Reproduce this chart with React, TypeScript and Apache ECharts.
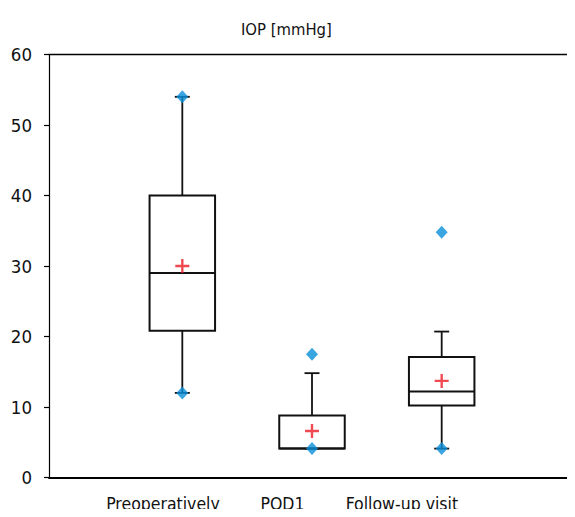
import React, { useEffect, useRef } from "react";
import * as echarts from "echarts";

const categories = ["Preoperatively", "POD1", "Follow-up visit"];
const positions = [1, 2, 3];
const whiskerLow = [12, 4.1, 4.1];
const q1 = [20.8, 4.1, 10.2];
const median = [29, 4.1, 12.2];
const q3 = [40, 8.8, 17.1];
const whiskerHigh = [54, 14.8, 20.7];
const means = [30, 6.6, 13.7];
const minPoints = [12, 4.1, 4.1];
const maxPoints = [54, 17.5, 34.8];
const yTicks = [0, 10, 20, 30, 40, 50, 60];

const FONT = "'Liberation Sans Narrow', 'DejaVu Sans Condensed', 'Noto Sans', sans-serif";
const LABEL_SHIFT = -0.149;
const LABEL_STEP = -0.079;

export default function App() {
  const ref = useRef<HTMLDivElement>(null);
  useEffect(() => {
    const chart = echarts.init(ref.current!, null, { renderer: "svg" });
    const boxData = positions.map((p, i) => [p, whiskerLow[i], q1[i], median[i], q3[i], whiskerHigh[i]]);
    const diamonds: number[][] = [];
    positions.forEach((p, i) => {
      diamonds.push([p, maxPoints[i]]);
      diamonds.push([p, minPoints[i]]);
    });
    const meanData = positions.map((p, i) => [p, means[i]]);
    const labelValues = positions.map((p, i) => p + LABEL_SHIFT + i * LABEL_STEP);
    const labelFor = (v: number) => {
      let best = 0;
      labelValues.forEach((lv, i) => {
        if (Math.abs(lv - v) < Math.abs(labelValues[best] - v)) best = i;
      });
      return categories[best];
    };
    chart.setOption({
      animation: false,
      title: {
        text: "IOP [mmHg]",
        left: 236,
        top: 16,
        textStyle: { fontFamily: FONT, fontSize: 16.5, fontWeight: "normal", color: "#111" },
      },
      grid: { left: 49, right: 0, top: 54.5, bottom: 39.5, containLabel: false, outerBoundsMode: "none" },
      xAxis: [
        {
          type: "value",
          position: "bottom",
          min: -0.028,
          max: 4.028,
          axisLine: { show: true, onZero: false, lineStyle: { color: "#000", width: 2 } },
          axisTick: { show: false },
          axisLabel: {
            show: true,
            customValues: labelValues,
            formatter: (v: number) => labelFor(v),
            margin: 17,
            fontFamily: FONT,
            fontSize: 17.5,
            color: "#111",
            hideOverlap: false,
          },
          splitLine: { show: false },
        },
        {
          type: "value",
          position: "top",
          min: -0.028,
          max: 4.028,
          axisLine: { show: true, onZero: false, lineStyle: { color: "#000", width: 1.4 } },
          axisTick: { show: false },
          axisLabel: { show: false },
          splitLine: { show: false },
        },
      ],
      yAxis: {
        type: "value",
        position: "left",
        min: yTicks[0],
        max: yTicks[yTicks.length - 1],
        interval: 10,
        axisLine: { show: true, onZero: false, lineStyle: { color: "#000", width: 1.2 } },
        axisTick: { show: true, length: 5, lineStyle: { color: "#000", width: 1.2 } },
        axisLabel: { margin: 17, fontFamily: FONT, fontSize: 18.5, color: "#111" },
        splitLine: { show: false },
      },
      series: [
        {
          type: "custom",
          xAxisIndex: 0,
          yAxisIndex: 0,
          data: boxData,
          encode: { x: 0, y: [1, 2, 3, 4, 5] },
          renderItem: (params: any, api: any) => {
            const x = api.value(0);
            const lo = api.coord([x, api.value(1)]);
            const b1 = api.coord([x, api.value(2)]);
            const md = api.coord([x, api.value(3)]);
            const b3 = api.coord([x, api.value(4)]);
            const hi = api.coord([x, api.value(5)]);
            const halfW = api.size([0.505, 0])[0] / 2;
            const cap = 7.5;
            const ls = { stroke: "#111", lineWidth: 1.8 };
            return {
              type: "group",
              children: [
                { type: "line", shape: { x1: hi[0], y1: hi[1], x2: b3[0], y2: b3[1] }, style: ls },
                { type: "line", shape: { x1: lo[0], y1: lo[1], x2: b1[0], y2: b1[1] }, style: ls },
                { type: "line", shape: { x1: hi[0] - cap, y1: hi[1], x2: hi[0] + cap, y2: hi[1] }, style: ls },
                { type: "line", shape: { x1: lo[0] - cap, y1: lo[1], x2: lo[0] + cap, y2: lo[1] }, style: ls },
                {
                  type: "rect",
                  shape: { x: b3[0] - halfW, y: b3[1], width: halfW * 2, height: b1[1] - b3[1] },
                  style: { stroke: "#111", lineWidth: 2, fill: "#fff" },
                },
                { type: "line", shape: { x1: md[0] - halfW, y1: md[1], x2: md[0] + halfW, y2: md[1] }, style: { stroke: "#111", lineWidth: 2 } },
              ],
            };
          },
          z: 2,
        },
        {
          type: "scatter",
          xAxisIndex: 0,
          yAxisIndex: 0,
          data: diamonds,
          symbol: "diamond",
          symbolSize: [12, 13],
          itemStyle: { color: "#0a8ed9" },
          z: 3,
        },
        {
          type: "scatter",
          xAxisIndex: 0,
          yAxisIndex: 0,
          data: meanData,
          symbol: "path://M5.4,0h2.2v5.4h5.4v2.2h-5.4v5.4h-2.2v-5.4h-5.4v-2.2h5.4z",
          symbolSize: 14,
          itemStyle: { color: "#ee1c25" },
          z: 4,
        },
      ],
    });
    return () => chart.dispose();
  }, []);
  return <div ref={ref} style={{ width: 575, height: 517, margin: -8 }} />;
}
